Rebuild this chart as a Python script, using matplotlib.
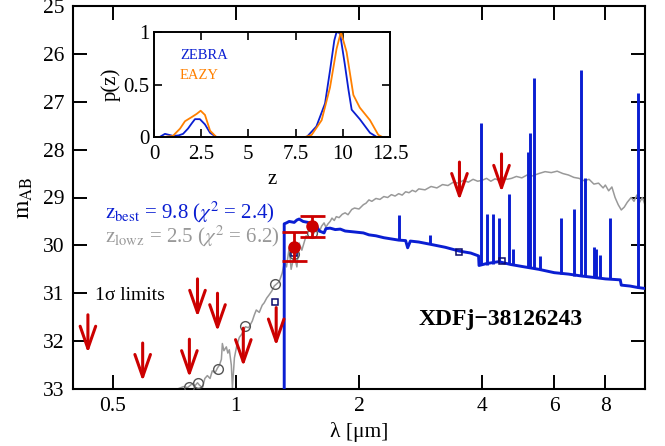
import matplotlib
matplotlib.use("Agg")
import matplotlib.pyplot as plt
import numpy as np

plt.rcParams['font.family'] = ['Liberation Serif', 'DejaVu Serif']
plt.rcParams['mathtext.fontset'] = 'stix'

# ---------------- data ----------------
# best-fit (z=9.8) continuum, wavelength [um], AB mag
best_lam = [1.313, 1.313, 1.33, 1.35, 1.389, 1.41, 1.428, 1.46, 1.50, 1.54, 1.571, 1.60, 1.643,
            1.66, 1.70, 1.75, 1.80, 1.85, 1.95, 2.05, 2.115, 2.2, 2.3, 2.5, 2.6, 2.63, 2.67, 2.8,
            3.0, 3.25, 3.52, 3.75, 3.92, 3.93, 4.1, 4.39, 4.7, 5.0, 5.5, 6.0, 6.5, 7.0, 7.5,
            8.0, 8.7, 8.75, 9.2, 9.6, 10.0]
best_mag = [33.0, 29.55, 29.53, 29.50, 29.52, 29.47, 29.45, 29.50, 29.52, 29.56, 29.58, 29.70, 29.74,
            29.65, 29.64, 29.67, 29.66, 29.70, 29.72, 29.74, 29.78, 29.80, 29.84, 29.89, 29.90, 30.05, 29.91, 29.93,
            29.98, 30.04, 30.12, 30.16, 30.22, 30.42, 30.38, 30.34, 30.40, 30.44, 30.50, 30.57, 30.60, 30.64, 30.67,
            30.70, 30.72, 30.83, 30.85, 30.88, 30.90]

# emission lines of the best-fit template: wavelength, continuum mag, peak mag
line_lam  = [2.50, 2.99, 3.98, 4.12, 4.24, 4.39, 4.64, 4.77, 5.19, 5.25, 5.34, 5.55,
             6.24, 6.72, 6.99, 7.15, 7.52, 7.61, 7.78, 8.22, 9.63]
line_base = [29.89, 29.98, 30.42, 30.40, 30.38, 30.34, 30.38, 30.40, 30.45, 30.46, 30.47, 30.50,
             30.59, 30.63, 30.64, 30.65, 30.67, 30.68, 30.69, 30.70, 30.87]
line_peak = [29.37, 29.78, 27.45, 29.34, 29.34, 29.43, 28.93, 30.08, 28.05, 27.65, 26.50, 30.22,
             29.43, 29.24, 26.34, 28.60, 30.03, 30.07, 30.20, 29.43, 26.82]

# low-z (z=2.5) template
lowz_lam = [0.720, 0.745, 0.762, 0.780, 0.795, 0.806, 0.815, 0.829, 0.840, 0.852, 0.865, 0.876, 0.890,
            0.902, 0.912, 0.922, 0.927, 0.935, 0.948, 0.956, 0.964, 0.975, 0.981, 0.992, 1.005, 1.020,
            1.035, 1.055, 1.075, 1.097, 1.110, 1.122, 1.141, 1.160, 1.173, 1.190, 1.207, 1.225, 1.241,
            1.260, 1.276, 1.298, 1.315, 1.330, 1.350, 1.365, 1.389, 1.41, 1.428, 1.45, 1.485, 1.52,
            1.571, 1.60, 1.62, 1.643, 1.66, 1.68, 1.70, 1.718, 1.74, 1.76, 1.788, 1.82, 1.85, 1.88,
            1.92, 1.95, 2.0, 2.05, 2.08, 2.115, 2.15, 2.2, 2.25, 2.3, 2.35, 2.4, 2.45, 2.5, 2.55,
            2.6, 2.65, 2.7, 2.75, 2.8, 2.9, 3.0, 3.1, 3.2, 3.3, 3.4, 3.5, 3.6, 3.7, 3.8, 3.9, 4.0,
            4.1, 4.2, 4.3, 4.4, 4.5, 4.6, 4.72, 4.85, 5.0, 5.15, 5.3, 5.5, 5.7, 5.9, 6.1, 6.3, 6.5,
            6.7, 6.9, 7.1, 7.3, 7.5, 7.7, 7.9, 8.0, 8.15, 8.3, 8.45, 8.6, 8.75, 8.9, 9.05, 9.25,
            9.4, 9.55, 9.7, 9.85, 10.0]
lowz_mag = [33.0, 32.95, 32.97, 32.90, 32.93, 32.87, 32.92, 32.97, 32.78, 32.72, 32.78, 32.62, 32.66,
            32.56, 32.50, 32.38, 32.05, 32.20, 32.12, 32.25, 32.18, 32.50, 32.98, 32.35, 32.10, 31.92,
            31.85, 31.70, 31.72, 31.58, 31.45, 31.35, 31.40, 31.25, 31.20, 31.10, 31.03, 30.95, 30.85,
            30.80, 30.76, 30.58, 30.35, 30.45, 30.05, 30.50, 30.20, 30.45, 29.95, 30.10, 29.80, 29.85,
            29.68, 29.72, 29.60, 29.53, 29.62, 29.55, 29.50, 29.43, 29.48, 29.40, 29.42, 29.35, 29.32, 29.36,
            29.25, 29.22, 29.24, 29.15, 29.12, 29.05, 29.08, 29.02, 29.04, 28.98, 29.00, 28.94, 28.97, 28.92, 28.95,
            28.88, 28.90, 28.85, 28.88, 28.82, 28.84, 28.77, 28.80, 28.73, 28.75, 28.68, 28.70, 28.64, 28.68, 28.62, 28.66, 28.64,
            28.60, 28.66, 28.61, 28.64, 28.58, 28.62, 28.60, 28.56, 28.59, 28.53, 28.55, 28.50, 28.46, 28.48, 28.45, 28.50, 28.53,
            28.58, 28.60, 28.65, 28.62, 28.72, 28.70, 28.80, 28.74, 28.86, 28.78, 29.00, 29.15, 29.26, 29.20, 29.10, 29.00,
            29.08, 28.95, 29.10, 29.00, 29.15]

# photometry
det_lam = [1.389, 1.536]
det_mag = [30.03, 29.60]
det_err = [0.30, 0.22]

lim_lam = [0.435, 0.592, 0.77, 0.806, 0.902, 1.043, 1.255, 3.52, 4.46]
lim_mag = [31.45, 32.04, 31.96, 30.70, 31.00, 31.73, 31.30, 28.26, 28.09]

# model band magnitudes
sq_lam = [1.248, 1.389, 1.536, 3.52, 4.46]
sq_mag = [31.18, 30.15, 29.60, 30.14, 30.33]
circ_lam = [0.77, 0.806, 0.906, 1.055, 1.248, 1.389, 1.536]
circ_mag = [32.96, 32.88, 32.58, 31.68, 30.81, 30.18, 29.75]

# p(z)
zeb_z = [0.0, 0.3, 0.58, 0.8, 1.02, 1.3, 1.54, 1.8, 2.0, 2.17, 2.43, 2.7, 2.97, 3.3, 8.09,
         8.6, 9.06, 9.32, 9.55, 9.67, 9.85, 10.1, 10.3, 10.47, 10.9, 11.44, 11.8, 12.5]
zeb_p = [0.0, 0.0, 0.03, 0.02, 0.01, 0.015, 0.03, 0.08, 0.13, 0.17, 0.17, 0.12, 0.04, 0.0, 0.0,
         0.10, 0.32, 0.63, 0.92, 1.0, 0.99, 0.70, 0.45, 0.26, 0.17, 0.04, 0.0, 0.0]
eazy_z = [0.0, 0.5, 1.0, 1.38, 1.64, 2.0, 2.26, 2.47, 2.7, 2.97, 3.3, 8.0, 8.35, 8.88, 9.32,
          9.67, 9.9, 10.2, 10.56, 10.9, 11.44, 11.88, 12.1, 12.5]
eazy_p = [0.0, 0.0, 0.01, 0.08, 0.15, 0.19, 0.22, 0.25, 0.21, 0.06, 0.0, 0.0, 0.02, 0.16, 0.47,
          0.84, 1.0, 0.81, 0.40, 0.28, 0.16, 0.02, 0.0, 0.0]

BLUE = '#0a1ed2'
GRAY = '#999999'
RED = '#cc0000'
ORANGE = '#ff8000'
NAVY = '#0a0a6e'

# ---------------- figure ----------------
fig = plt.figure(figsize=(6.65, 4.46), dpi=100)
ax = fig.add_axes([73/665, 1-389/446, 572/665, 383/446])

ax.plot(lowz_lam, lowz_mag, color=GRAY, lw=1.1, zorder=2)
ax.plot(best_lam, best_mag, color=BLUE, lw=2.1, zorder=3)
ax.vlines(line_lam, line_base, line_peak, color=BLUE, lw=2.1, zorder=3)

ax.plot(circ_lam, circ_mag, 'o', mfc='none', mec='#555555', mew=1.0, ms=7, zorder=4)
ax.plot(sq_lam, sq_mag, 's', mfc='none', mec=NAVY, mew=1.1, ms=5, zorder=4)

ax.errorbar(det_lam, det_mag, yerr=det_err, fmt='o', color=RED, ms=8, lw=2,
            capsize=9, capthick=2, zorder=6)

for lx, ly in zip(lim_lam, lim_mag):
    ax.annotate('', xy=(lx, ly + 0.8), xytext=(lx, ly),
                arrowprops=dict(arrowstyle='->,head_length=0.8,head_width=0.28',
                                color=RED, lw=2.2, mutation_scale=20,
                                shrinkA=0, shrinkB=0), zorder=5)

ax.set_xscale('log')
ax.set_xlim(0.4, 10)
ax.set_ylim(33, 25)
ax.set_xticks([0.5, 1, 2, 4, 6, 8])
ax.set_xticklabels(['0.5', '1', '2', '4', '6', '8'])
ax.xaxis.set_minor_locator(matplotlib.ticker.NullLocator())
ax.set_yticks(range(25, 34))
ax.tick_params(axis='both', which='major', direction='in', length=10, width=1.4,
               labelsize=15.5, top=True, right=True, pad=6)
for s in ax.spines.values():
    s.set_linewidth(1.5)
ax.set_xlabel('λ [μm]', fontsize=15.5, labelpad=4)
ax.set_ylabel(r'$\mathrm{m_{AB}}$', fontsize=17, labelpad=6)

ax.text(0.056, 0.446, r'$\mathrm{z_{best}}$ = 9.8 ($\chi^2$ = 2.4)', color=BLUE,
        fontsize=15, transform=ax.transAxes, va='baseline')
ax.text(0.056, 0.384, r'$\mathrm{z_{lowz}}$ = 2.5 ($\chi^2$ = 6.2)', color=GRAY,
        fontsize=15, transform=ax.transAxes, va='baseline')
ax.text(0.038, 0.232, '1σ limits', color='black', fontsize=14,
        transform=ax.transAxes, va='baseline')
ax.text(0.747, 0.167, 'XDFj−38126243', color='black', fontsize=17, fontweight='bold',
        transform=ax.transAxes, va='baseline', ha='center')

# ---------------- inset ----------------
axi = fig.add_axes([154/665, 1-137/446, 236/665, 105/446])
axi.plot(zeb_z, zeb_p, color=BLUE, lw=1.3)
axi.plot(eazy_z, eazy_p, color=ORANGE, lw=1.3)
axi.set_xlim(0, 12.5)
axi.set_ylim(0, 1)
axi.set_xticks([0, 2.5, 5, 7.5, 10, 12.5])
axi.set_xticklabels(['0', '2.5', '5', '7.5', '10', '12.5'])
axi.set_yticks([0, 0.5, 1])
axi.set_yticklabels(['0', '0.5', '1'])
axi.tick_params(direction='in', length=6, width=1.2, labelsize=15, top=True, right=True, pad=3)
axi.tick_params(axis='x', pad=6)
for s in axi.spines.values():
    s.set_linewidth(1.4)
axi.set_xlabel('z', fontsize=15, labelpad=4)
axi.set_ylabel('p(z)', fontsize=15, labelpad=2)
axi.text(0.11, 0.78, 'ZEBRA', color=BLUE, fontsize=10.5, transform=axi.transAxes, va='center')
axi.text(0.11, 0.59, 'EAZY', color=ORANGE, fontsize=10.5, transform=axi.transAxes, va='center')

fig.savefig('out.png', dpi=100)
